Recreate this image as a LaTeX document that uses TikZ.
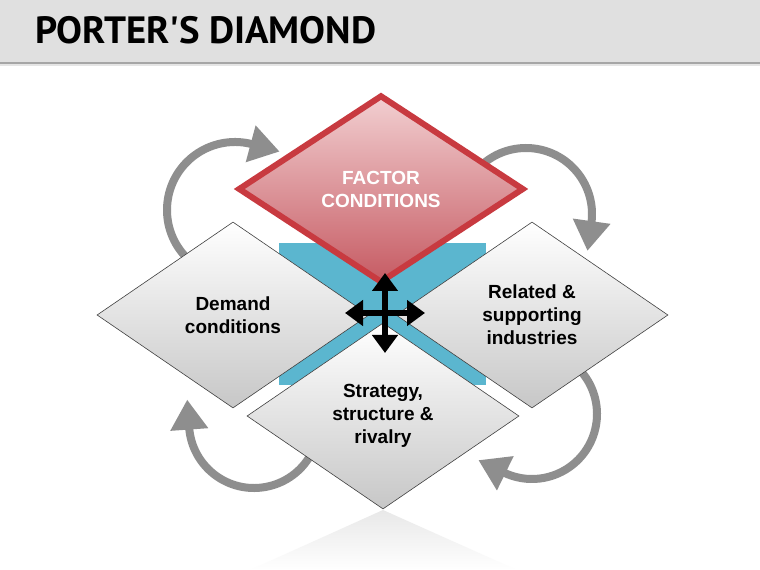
\documentclass[tikz,border=0pt]{standalone}
\usepackage{fontspec}
\setmainfont{Liberation Sans}
\newfontfamily\titlefont[Ligatures=TeXOff]{PT Sans}
\usepackage{xcolor}
\usepackage{tikz}
\usetikzlibrary{calc, shapes.geometric, positioning, arrows.meta}

\definecolor{barGray}{HTML}{E0E0E0}
\definecolor{loopGray}{HTML}{8E8E8E}
\definecolor{bandBlue}{HTML}{5BB6CF}
\definecolor{factorTop}{HTML}{F2CFD1}
\definecolor{factorBot}{HTML}{C65B63}
\definecolor{factorLine}{HTML}{C83A40}

\tikzset{
    sidebox/.style={diamond, draw=black!75, line width=0.6pt,
        top color=white, bottom color=black!22,
        minimum width=272pt, minimum height=186pt, inner sep=0pt,
        align=center, font=\fontsize{19}{23}\selectfont\bfseries},
    factorbox/.style={sidebox, draw=factorLine, line width=6pt, line join=miter,
        top color=factorTop, bottom color=factorBot, text=white,
        minimum width=286pt, minimum height=188pt},
    cyclearrow/.style={draw=loopGray, line width=8pt,
        -{Triangle[length=30pt,width=36pt]}, shorten >=-28pt},
    crossarrow/.style={line width=6pt,
        {Triangle[length=18pt,width=25pt]}-{Triangle[length=18pt,width=25pt]}}
}

\begin{document}
\begin{tikzpicture}[x=1pt, y=1pt]
    \useasboundingbox (0,0) rectangle (760,570);
    \fill[white] (0,0) rectangle (760,570);

    % 1. Thanh tiêu đề
    \fill[barGray] (0,508) rectangle (760,570);
    \draw[black!35, line width=2pt] (0,507) -- (760,507);
    \draw[black!10, line width=2pt] (0,505) -- (760,505);
    \node[anchor=base west, inner sep=0pt, xscale=1.02,
        font=\titlefont\bfseries\fontsize{38}{40}\selectfont] (title) at (35,526) {PORTER'S DIAMOND};

    % 2. Bóng phản chiếu và dải xanh phía sau
    \shade[top color=black!9, bottom color=white] (383,60) -- (517,0) -- (250,0) -- cycle;
    \fill[bandBlue] (279,185) rectangle (486,327);

    % 3. Các mũi tên vòng
    \draw[cyclearrow] ([shift={(224:68)}]235,360) arc[start angle=224, end angle=75, radius=68];
    \draw[cyclearrow] ([shift={(133:66)}]526,356) arc[start angle=133, end angle=-8, radius=66];
    \draw[cyclearrow] ([shift={(40:65)}]532,156) arc[start angle=40, end angle=-116, radius=65];
    \draw[cyclearrow] ([shift={(-31:65)}]254,147) arc[start angle=-31, end angle=-176, radius=65];

    % 4. Bốn hình thoi
    \node[sidebox] (demand) at (233,255) {Demand\\conditions};
    \node[sidebox] (related) at (532,255) {Related \&\\supporting\\industries};
    \node[sidebox] (strategy) at (383,154) {Strategy,\\structure \&\\rivalry};
    \node[factorbox] (factor) at (381,381) {FACTOR\\CONDITIONS};

    % 5. Mũi tên chữ thập ở giữa
    \coordinate (hub) at (385,257);
    \coordinate[left=40pt of hub] (hubW);
    \coordinate[right=40pt of hub] (hubE);
    \coordinate[above=40pt of hub] (hubN);
    \coordinate[below=40pt of hub] (hubS);
    \draw[crossarrow] (hubW) -- (hubE);
    \draw[crossarrow] (hubS) -- (hubN);
\end{tikzpicture}
\end{document}
